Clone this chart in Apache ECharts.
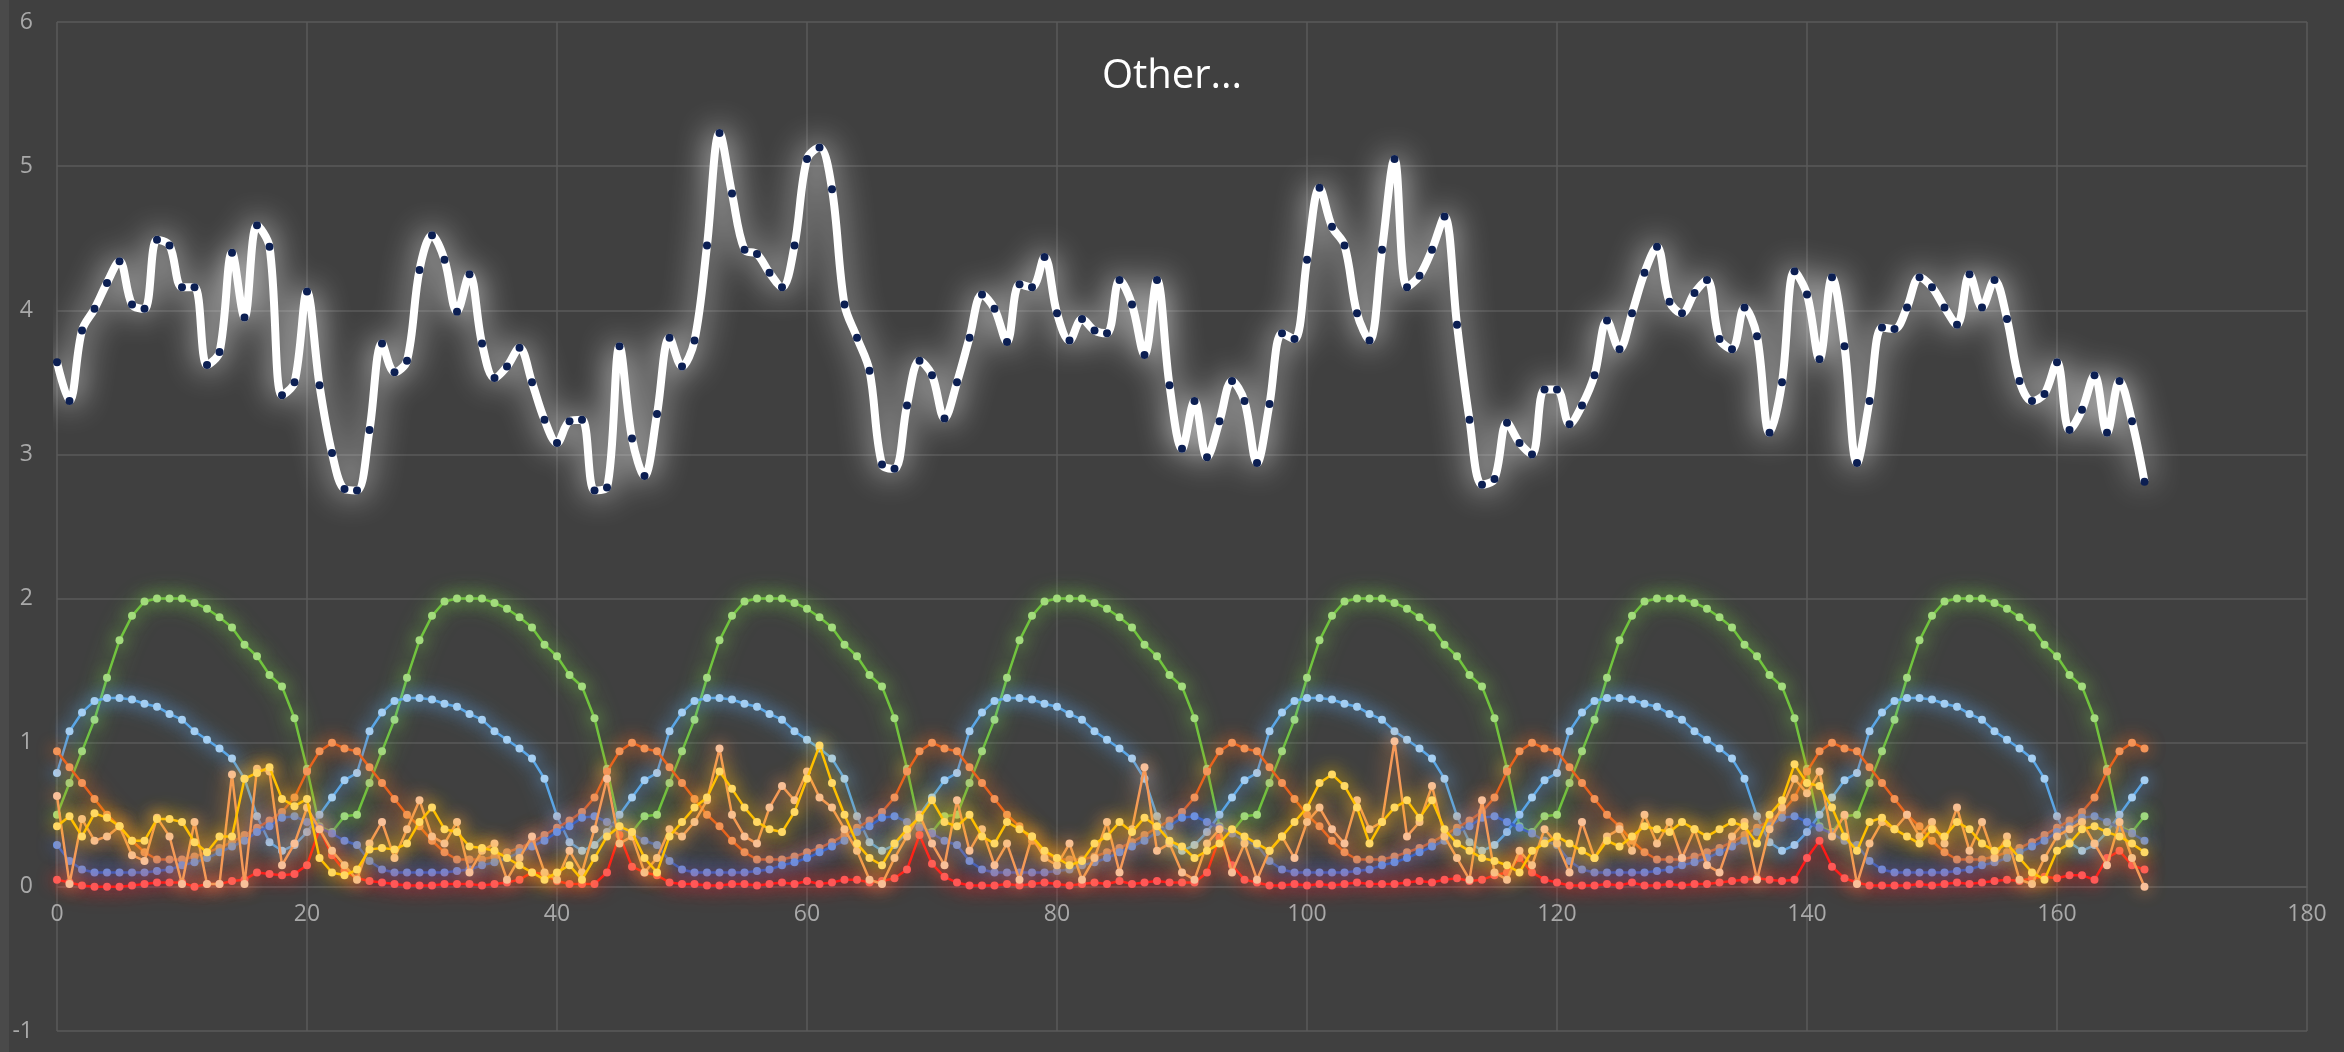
<!DOCTYPE html>
<html>
<head>
<meta charset="utf-8">
<script src="https://cdn.jsdelivr.net/npm/echarts@6/dist/echarts.min.js"></script>
<style>
  html, body { margin: 0; padding: 0; background: #404040; overflow: hidden; }
  #chart { width: 2344px; height: 1052px; }
</style>
</head>
<body>
<div id="chart"></div>
<script>
// Hourly values over one week (hour 0 .. 167)
const other = [
  3.64, 3.37, 3.86, 4.01, 4.19, 4.34, 4.04, 4.01, 4.49, 4.45,
  4.16, 4.16, 3.62, 3.71, 4.40, 3.95, 4.59, 4.44, 3.41, 3.50,
  4.13, 3.48, 3.01, 2.76, 2.75, 3.17, 3.77, 3.57, 3.65, 4.28,
  4.52, 4.35, 3.99, 4.25, 3.77, 3.53, 3.61, 3.74, 3.50, 3.24,
  3.08, 3.23, 3.24, 2.75, 2.77, 3.75, 3.11, 2.85, 3.28, 3.81,
  3.61, 3.79, 4.45, 5.23, 4.81, 4.42, 4.39, 4.26, 4.16, 4.45,
  5.05, 5.13, 4.84, 4.04, 3.81, 3.58, 2.93, 2.90, 3.34, 3.65,
  3.55, 3.25, 3.50, 3.81, 4.11, 4.01, 3.78, 4.18, 4.16, 4.37,
  3.98, 3.79, 3.94, 3.86, 3.84, 4.21, 4.04, 3.69, 4.21, 3.48,
  3.04, 3.37, 2.98, 3.23, 3.51, 3.37, 2.94, 3.35, 3.84, 3.80,
  4.35, 4.85, 4.58, 4.45, 3.98, 3.79, 4.42, 5.05, 4.16, 4.24,
  4.42, 4.65, 3.90, 3.24, 2.79, 2.83, 3.22, 3.08, 3.00, 3.45,
  3.45, 3.21, 3.34, 3.55, 3.93, 3.73, 3.98, 4.26, 4.44, 4.06,
  3.98, 4.12, 4.21, 3.80, 3.73, 4.02, 3.82, 3.15, 3.50, 4.27,
  4.11, 3.66, 4.23, 3.75, 2.94, 3.37, 3.88, 3.87, 4.02, 4.23,
  4.16, 4.02, 3.90, 4.25, 4.02, 4.21, 3.94, 3.51, 3.37, 3.42,
  3.64, 3.17, 3.31, 3.55, 3.15, 3.51, 3.23, 2.81
];

const green = [
  0.50,0.72,0.94,1.16,1.45,1.71,1.88,1.98,2.00,2.00,2.00,1.97,1.93,1.87,1.80,1.68,1.60,1.47,1.39,1.17,0.82,0.42,0.38,0.49,
  0.50,0.72,0.94,1.16,1.45,1.71,1.88,1.98,2.00,2.00,2.00,1.97,1.93,1.87,1.80,1.68,1.60,1.47,1.39,1.17,0.82,0.42,0.38,0.49,
  0.50,0.72,0.94,1.16,1.45,1.71,1.88,1.98,2.00,2.00,2.00,1.97,1.93,1.87,1.80,1.68,1.60,1.47,1.39,1.17,0.82,0.42,0.38,0.49,
  0.50,0.72,0.94,1.16,1.45,1.71,1.88,1.98,2.00,2.00,2.00,1.97,1.93,1.87,1.80,1.68,1.60,1.47,1.39,1.17,0.82,0.42,0.38,0.49,
  0.50,0.72,0.94,1.16,1.45,1.71,1.88,1.98,2.00,2.00,2.00,1.97,1.93,1.87,1.80,1.68,1.60,1.47,1.39,1.17,0.82,0.42,0.38,0.49,
  0.50,0.72,0.94,1.16,1.45,1.71,1.88,1.98,2.00,2.00,2.00,1.97,1.93,1.87,1.80,1.68,1.60,1.47,1.39,1.17,0.82,0.42,0.38,0.49,
  0.50,0.72,0.94,1.16,1.45,1.71,1.88,1.98,2.00,2.00,2.00,1.97,1.93,1.87,1.80,1.68,1.60,1.47,1.39,1.17,0.82,0.42,0.38,0.49
];

const lightBlue = [
  0.79,1.08,1.21,1.29,1.31,1.31,1.30,1.27,1.25,1.20,1.16,1.08,1.02,0.96,0.89,0.75,0.49,0.31,0.25,0.29,0.38,0.50,0.62,0.74,
  0.79,1.08,1.21,1.29,1.31,1.31,1.30,1.27,1.25,1.20,1.16,1.08,1.02,0.96,0.89,0.75,0.49,0.31,0.25,0.29,0.38,0.50,0.62,0.74,
  0.79,1.08,1.21,1.29,1.31,1.31,1.30,1.27,1.25,1.20,1.16,1.08,1.02,0.96,0.89,0.75,0.49,0.31,0.25,0.29,0.38,0.50,0.62,0.74,
  0.79,1.08,1.21,1.29,1.31,1.31,1.30,1.27,1.25,1.20,1.16,1.08,1.02,0.96,0.89,0.75,0.49,0.31,0.25,0.29,0.38,0.50,0.62,0.74,
  0.79,1.08,1.21,1.29,1.31,1.31,1.30,1.27,1.25,1.20,1.16,1.08,1.02,0.96,0.89,0.75,0.49,0.31,0.25,0.29,0.38,0.50,0.62,0.74,
  0.79,1.08,1.21,1.29,1.31,1.31,1.30,1.27,1.25,1.20,1.16,1.08,1.02,0.96,0.89,0.75,0.49,0.31,0.25,0.29,0.38,0.50,0.62,0.74,
  0.79,1.08,1.21,1.29,1.31,1.31,1.30,1.27,1.25,1.20,1.16,1.08,1.02,0.96,0.89,0.75,0.49,0.31,0.25,0.29,0.38,0.50,0.62,0.74
];

const orange = [
  0.94,0.83,0.72,0.61,0.50,0.42,0.32,0.24,0.19,0.19,0.19,0.21,0.24,0.27,0.31,0.36,0.41,0.46,0.52,0.62,0.80,0.94,1.00,0.96,
  0.94,0.83,0.72,0.61,0.50,0.42,0.32,0.24,0.19,0.19,0.19,0.21,0.24,0.27,0.31,0.36,0.41,0.46,0.52,0.62,0.80,0.94,1.00,0.96,
  0.94,0.83,0.72,0.61,0.50,0.42,0.32,0.24,0.19,0.19,0.19,0.21,0.24,0.27,0.31,0.36,0.41,0.46,0.52,0.62,0.80,0.94,1.00,0.96,
  0.94,0.83,0.72,0.61,0.50,0.42,0.32,0.24,0.19,0.19,0.19,0.21,0.24,0.27,0.31,0.36,0.41,0.46,0.52,0.62,0.80,0.94,1.00,0.96,
  0.94,0.83,0.72,0.61,0.50,0.42,0.32,0.24,0.19,0.19,0.19,0.21,0.24,0.27,0.31,0.36,0.41,0.46,0.52,0.62,0.80,0.94,1.00,0.96,
  0.94,0.83,0.72,0.61,0.50,0.42,0.32,0.24,0.19,0.19,0.19,0.21,0.24,0.27,0.31,0.36,0.41,0.46,0.52,0.62,0.80,0.94,1.00,0.96,
  0.94,0.83,0.72,0.61,0.50,0.42,0.32,0.24,0.19,0.19,0.19,0.21,0.24,0.27,0.31,0.36,0.41,0.46,0.52,0.62,0.80,0.94,1.00,0.96
];

const blue = [
  0.29,0.18,0.12,0.10,0.10,0.10,0.10,0.10,0.11,0.12,0.15,0.17,0.20,0.24,0.28,0.32,0.38,0.42,0.48,0.49,0.45,0.41,0.37,0.32,
  0.29,0.18,0.12,0.10,0.10,0.10,0.10,0.10,0.11,0.12,0.15,0.17,0.20,0.24,0.28,0.32,0.38,0.42,0.48,0.49,0.45,0.41,0.37,0.32,
  0.29,0.18,0.12,0.10,0.10,0.10,0.10,0.10,0.11,0.12,0.15,0.17,0.20,0.24,0.28,0.32,0.38,0.42,0.48,0.49,0.45,0.41,0.37,0.32,
  0.29,0.18,0.12,0.10,0.10,0.10,0.10,0.10,0.11,0.12,0.15,0.17,0.20,0.24,0.28,0.32,0.38,0.42,0.48,0.49,0.45,0.41,0.37,0.32,
  0.29,0.18,0.12,0.10,0.10,0.10,0.10,0.10,0.11,0.12,0.15,0.17,0.20,0.24,0.28,0.32,0.38,0.42,0.48,0.49,0.45,0.41,0.37,0.32,
  0.29,0.18,0.12,0.10,0.10,0.10,0.10,0.10,0.11,0.12,0.15,0.17,0.20,0.24,0.28,0.32,0.38,0.42,0.48,0.49,0.45,0.41,0.37,0.32,
  0.29,0.18,0.12,0.10,0.10,0.10,0.10,0.10,0.11,0.12,0.15,0.17,0.20,0.24,0.28,0.32,0.38,0.42,0.48,0.49,0.45,0.41,0.37,0.32
];

const red = [
  0.05,0.03,0.01,0.00,0.00,0.00,0.01,0.02,0.03,0.03,0.03,0.00,0.02,0.02,0.04,0.05,0.10,0.09,0.08,0.09,0.15,0.40,0.22,0.11,
  0.06,0.04,0.03,0.02,0.01,0.01,0.01,0.02,0.02,0.02,0.01,0.02,0.03,0.05,0.10,0.09,0.04,0.02,0.02,0.02,0.10,0.36,0.14,0.10,
  0.08,0.03,0.02,0.02,0.01,0.01,0.02,0.02,0.01,0.02,0.03,0.02,0.04,0.02,0.03,0.05,0.05,0.03,0.04,0.06,0.12,0.36,0.16,0.07,
  0.03,0.01,0.01,0.01,0.02,0.01,0.02,0.03,0.02,0.01,0.02,0.03,0.02,0.04,0.02,0.03,0.04,0.03,0.03,0.03,0.10,0.34,0.15,0.05,
  0.03,0.01,0.01,0.02,0.01,0.02,0.01,0.02,0.03,0.02,0.02,0.02,0.03,0.04,0.03,0.05,0.06,0.04,0.05,0.08,0.10,0.20,0.10,0.05,
  0.03,0.01,0.01,0.01,0.02,0.01,0.03,0.01,0.01,0.02,0.01,0.02,0.02,0.03,0.04,0.05,0.06,0.05,0.04,0.05,0.20,0.32,0.14,0.06,
  0.03,0.01,0.01,0.01,0.01,0.02,0.01,0.02,0.03,0.02,0.03,0.04,0.05,0.04,0.06,0.07,0.06,0.08,0.08,0.05,0.20,0.25,0.15,0.12
];

const yellow = [
  0.42,0.49,0.35,0.51,0.48,0.42,0.32,0.32,0.47,0.47,0.45,0.31,0.24,0.35,0.35,0.75,0.79,0.83,0.61,0.56,0.61,0.20,0.10,0.08,
  0.12,0.26,0.27,0.26,0.30,0.45,0.55,0.40,0.38,0.28,0.27,0.25,0.20,0.15,0.10,0.05,0.10,0.15,0.05,0.20,0.35,0.42,0.38,0.20,
  0.10,0.35,0.45,0.55,0.62,0.80,0.68,0.55,0.45,0.40,0.38,0.52,0.75,0.98,0.72,0.50,0.30,0.20,0.15,0.30,0.40,0.48,0.60,0.45,
  0.42,0.50,0.35,0.30,0.45,0.40,0.35,0.25,0.20,0.15,0.18,0.30,0.35,0.45,0.38,0.48,0.42,0.32,0.28,0.20,0.25,0.30,0.40,0.35,
  0.30,0.25,0.35,0.45,0.55,0.72,0.78,0.70,0.55,0.30,0.45,0.55,0.60,0.48,0.60,0.40,0.30,0.25,0.20,0.18,0.15,0.10,0.25,0.30,
  0.35,0.30,0.25,0.20,0.32,0.28,0.35,0.42,0.40,0.38,0.45,0.40,0.35,0.40,0.45,0.42,0.30,0.50,0.60,0.85,0.72,0.70,0.55,0.35,
  0.25,0.45,0.48,0.40,0.35,0.30,0.40,0.35,0.45,0.40,0.30,0.25,0.30,0.20,0.10,0.05,0.25,0.30,0.40,0.42,0.38,0.35,0.30,0.24
];

const salmon = [
  0.63,0.02,0.47,0.32,0.35,0.42,0.22,0.18,0.48,0.35,0.02,0.45,0.02,0.02,0.78,0.02,0.82,0.80,0.15,0.30,0.55,0.40,0.25,0.15,
  0.05,0.30,0.45,0.20,0.40,0.60,0.35,0.30,0.45,0.10,0.25,0.30,0.05,0.20,0.35,0.10,0.05,0.25,0.10,0.40,0.75,0.30,0.35,0.10,
  0.20,0.40,0.35,0.45,0.60,0.96,0.50,0.35,0.30,0.55,0.70,0.60,0.80,0.62,0.55,0.40,0.25,0.05,0.02,0.20,0.35,0.50,0.30,0.15,
  0.60,0.25,0.40,0.15,0.30,0.05,0.35,0.20,0.15,0.30,0.05,0.20,0.45,0.10,0.40,0.83,0.25,0.30,0.10,0.05,0.30,0.40,0.10,0.30,
  0.05,0.25,0.35,0.20,0.45,0.55,0.40,0.30,0.60,0.40,0.45,1.01,0.35,0.45,0.70,0.35,0.20,0.05,0.60,0.10,0.05,0.25,0.15,0.40,
  0.30,0.10,0.45,0.20,0.35,0.40,0.25,0.50,0.30,0.45,0.20,0.40,0.15,0.10,0.35,0.45,0.05,0.40,0.55,0.75,0.65,0.80,0.35,0.50,
  0.02,0.30,0.45,0.40,0.50,0.35,0.45,0.30,0.55,0.25,0.45,0.20,0.35,0.05,0.02,0.20,0.35,0.40,0.45,0.30,0.15,0.45,0.20,0.00
];

const xTicks = { min: 0, max: 180, step: 20 };
const yTicks = { min: -1, max: 6, step: 1 };

const FONT = '"Open Sans", "Noto Sans", sans-serif';

// plot box inside the 2344 x 1052 canvas
const GRID = { left: 57, right: 37, top: 22, bottom: 21 };
const PLOT_H = 1052 - GRID.top - GRID.bottom;
// distance from the bottom edge (y = -1) up to the y = 0 line, where the hour labels sit
const ZERO_OFFSET = PLOT_H * (0 - yTicks.min) / (yTicks.max - yTicks.min);

function pairs(values) {
  return values.map((v, i) => [i, v]);
}

// thin glowing line with light-tinted dots
function glowLine(name, values, lineColor, dotColor, glowColor, z) {
  return {
    name: name,
    type: 'line',
    z: z,
    data: pairs(values),
    symbol: 'circle',
    symbolSize: 8,
    showSymbol: true,
    lineStyle: { color: lineColor, width: 2.5, shadowBlur: 22, shadowColor: glowColor },
    itemStyle: { color: dotColor, borderWidth: 0, shadowBlur: 16, shadowColor: glowColor },
    emphasis: { disabled: true },
    animation: false
  };
}

const chart = echarts.init(document.getElementById('chart'), null, { renderer: 'canvas' });

chart.setOption({
  backgroundColor: '#404040',
  animation: false,
  // slightly lighter frame strip along the left edge
  graphic: [{
    type: 'rect', left: 0, top: 0, z: -10,
    shape: { width: 9, height: 1052 },
    style: { fill: '#4a4a4a' }
  }],
  title: {
    text: 'Other...',
    left: 'center',
    top: 52,
    textStyle: { color: '#ffffff', fontSize: 40, fontWeight: 'normal', fontFamily: FONT }
  },
  grid: {
    left: GRID.left, right: GRID.right, top: GRID.top, bottom: GRID.bottom,
    containLabel: false, outerBoundsMode: 'none'
  },
  xAxis: {
    type: 'value',
    position: 'bottom',
    offset: -ZERO_OFFSET,
    min: xTicks.min, max: xTicks.max, interval: xTicks.step,
    axisLine: { show: true, onZero: false, lineStyle: { color: '#5a5a5a', width: 1.5 } },
    axisTick: { show: false },
    axisLabel: { color: '#a9a9a9', fontSize: 23, fontFamily: FONT, margin: 16 },
    splitLine: { show: true, lineStyle: { color: '#5a5a5a', width: 1.5 } }
  },
  yAxis: {
    type: 'value',
    min: yTicks.min, max: yTicks.max, interval: yTicks.step,
    axisLine: { show: false },
    axisTick: { show: false },
    axisLabel: { color: '#a9a9a9', fontSize: 23, fontFamily: FONT, margin: 24 },
    splitLine: { show: true, lineStyle: { color: '#5a5a5a', width: 1.5 } }
  },
  series: [
    glowLine('green', green, '#72c33f', '#a4dc7e', 'rgba(120,210,70,1)', 2),
    glowLine('lightBlue', lightBlue, '#5aa6e6', '#a6cff2', 'rgba(100,175,245,1)', 3),
    glowLine('orange', orange, '#e8621e', '#f3955a', 'rgba(240,110,40,1)', 4),
    glowLine('blue', blue, '#3a62c4', '#6f92e0', 'rgba(70,110,215,1)', 5),
    glowLine('red', red, '#ff1a1a', '#ff5a5a', 'rgba(255,40,40,1)', 6),
    glowLine('salmon', salmon, '#f59a5a', '#f8c09a', 'rgba(245,150,80,1)', 7),
    glowLine('yellow', yellow, '#ffc000', '#ffd966', 'rgba(255,195,0,1)', 8),
    {
      name: 'Other',
      type: 'line',
      z: 10,
      data: pairs(other),
      smooth: 0.35,
      symbol: 'circle',
      symbolSize: 8,
      lineStyle: { color: '#ffffff', width: 8, shadowBlur: 32, shadowColor: 'rgba(255,255,255,0.95)' },
      itemStyle: { color: '#0c1f52', borderWidth: 0 },
      emphasis: { disabled: true },
      animation: false
    }
  ]
});
</script>
</body>
</html>
